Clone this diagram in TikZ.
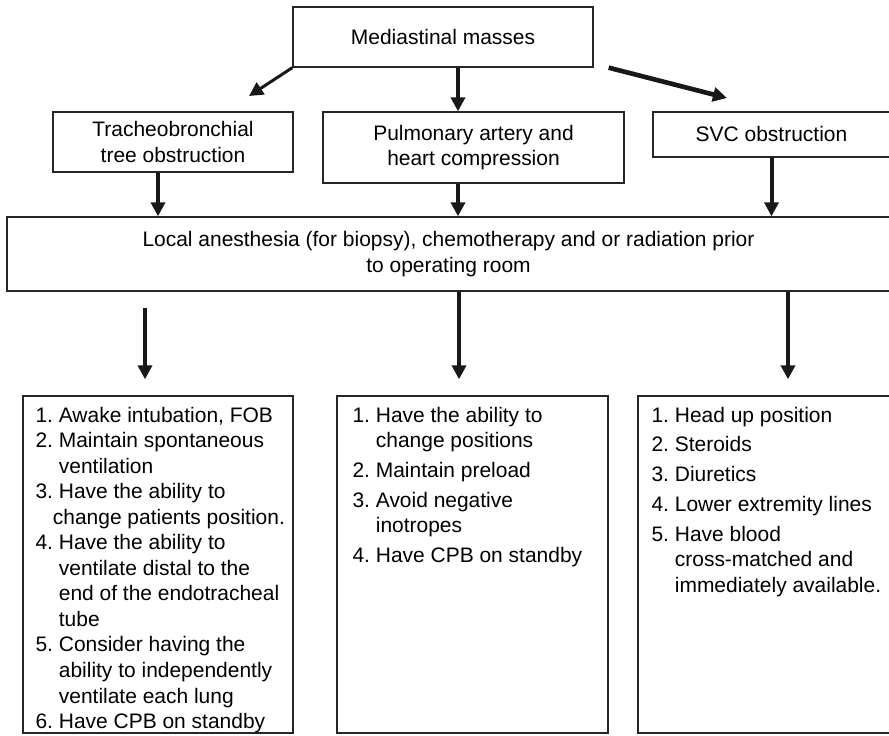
\documentclass[tikz,border=0pt]{standalone}
\usepackage{fontspec}
\setmainfont{Liberation Sans}
\usetikzlibrary{arrows.meta, positioning, calc}
\tikzset{
	baseblock/.style={
		rectangle, inner sep=0pt,
		align=center, font=\fontsize{17.9}{21.6}\selectfont,
		draw=black!85, line width=0.04cm
	},
	listblock/.style={
		rectangle, inner sep=0pt,
		minimum height=10.11cm,
		draw=black!85, line width=0.04cm
	},
	listtext/.style={
		anchor=north west, inner sep=0pt,
		font=\fontsize{17.9}{21.8}\selectfont
	},
	arrow/.style={
		-{Triangle[length=0.42cm, width=0.42cm]}, line width=0.12cm, color=black!90
	}
}

\begin{document}
\begin{tikzpicture}
		\useasboundingbox (0,0) rectangle (26.67,-22.05);
		%% ═══════════════════════════════
		%%  ROW 1 — MASSES
		%% ═══════════════════════════════
		\node[baseblock, minimum width=9.0cm, minimum height=1.8cm] (masses) at (13.29,-1.11) {Mediastinal masses};
		
		%% ═══════════════════════════════
		%%  ROW 2 — OBSTRUCTIONS
		%% ═══════════════════════════════
		\node[baseblock, minimum width=7.2cm, minimum height=1.8cm] (tracheo) at (5.19,-4.26) {Tracheobronchial\\tree obstruction};
		\node[baseblock, minimum width=9.03cm, minimum height=2.13cm] (pulmo) at (14.205,-4.425) {Pulmonary artery and\\heart compression};
		\node[baseblock, minimum width=7.11cm, minimum height=1.35cm] (svc) at (23.145,-4.035) {SVC obstruction};
		
		%% ═══════════════════════════════
		%%  ROW 3 — PRIOR TO OR
		%% ═══════════════════════════════
		\node[baseblock, minimum width=26.49cm, minimum height=2.22cm] (local) at (13.455,-7.62) {Local anesthesia (for biopsy), chemotherapy and or radiation prior\\to operating room};
		
		%% ═══════════════════════════════
		%%  ROW 4 — LISTS
		%% ═══════════════════════════════
		\node[listblock, minimum width=8.1cm] (tracheolist) at (4.74,-16.935) {};
		\node[listblock, minimum width=8.13cm] (pulmolist) at (14.175,-16.935) {};
		\node[listblock, minimum width=7.56cm] (svclist) at (22.92,-16.935) {};
		
		\node[listtext] (tracheoitems) at ([shift={(0.39cm,-0.26cm)}]tracheolist.north west) {%
			\begin{tabular}{@{}l@{\ }l@{}}
				1. & Awake intubation, FOB\\
				2. & Maintain spontaneous\\
				   & ventilation\\
				3. & Have the ability to\\
				   & \hspace*{-0.18cm}change patients position.\\
				4. & Have the ability to\\
				   & ventilate distal to the\\
				   & end of the endotracheal\\
				   & tube\\
				5. & Consider having the\\
				   & ability to independently\\
				   & ventilate each lung\\
				6. & Have CPB on standby
			\end{tabular}};
		
		\node[listtext] (pulmoitems) at ([shift={(0.48cm,-0.26cm)}]pulmolist.north west) {%
			\begin{tabular}{@{}l@{\ }l@{}}
				1. & Have the ability to\\
				   & change positions\\[3.6pt]
				2. & Maintain preload\\[3.6pt]
				3. & Avoid negative\\
				   & inotropes\\[3.6pt]
				4. & Have CPB on standby
			\end{tabular}};
		
		\node[listtext] (svcitems) at ([shift={(0.42cm,-0.26cm)}]svclist.north west) {%
			\begin{tabular}{@{}l@{\ }l@{}}
				1. & Head up position\\[3.6pt]
				2. & Steroids\\[3.6pt]
				3. & Diuretics\\[3.6pt]
				4. & Lower extremity lines\\[3.6pt]
				5. & Have blood\\
				   & cross-matched and\\
				   & immediately available.
			\end{tabular}};
		
		%% ═══════════════════════════════
		%%  ARROWS
		%% ═══════════════════════════════
		\coordinate (tracheotip) at (7.47,-2.88);
		\coordinate (svctip) at (21.81,-2.94);
		
		% masses → obstructions
		\draw[arrow, line width=0.09cm] (masses.south west) -- (tracheotip);
		\draw[arrow] ([xshift=0.45cm]masses.south) -- ([xshift=0.45cm]masses.south |- pulmo.north);
		\draw[arrow, line width=0.14cm] ([xshift=0.45cm]masses.south east) -- (svctip);
		
		% obstructions → local
		\draw[arrow] ([xshift=-0.45cm]tracheo.south) -- ([xshift=-0.45cm]tracheo.south |- local.north);
		\draw[arrow] ([xshift=-0.465cm]pulmo.south) -- ([xshift=-0.465cm]pulmo.south |- local.north);
		\draw[arrow] (svc.south) -- (svc.south |- local.north);
		
		% local → lists
		\draw[arrow, shorten <=0.48cm, shorten >=0.48cm] ([xshift=-0.39cm]tracheolist.north |- local.south) -- ([xshift=-0.39cm]tracheolist.north);
		\draw[arrow, shorten >=0.48cm] ([xshift=-0.405cm]pulmolist.north |- local.south) -- ([xshift=-0.405cm]pulmolist.north);
		\draw[arrow, shorten >=0.48cm] ([xshift=0.72cm]svclist.north |- local.south) -- ([xshift=0.72cm]svclist.north);
		
	\end{tikzpicture}
\end{document}
